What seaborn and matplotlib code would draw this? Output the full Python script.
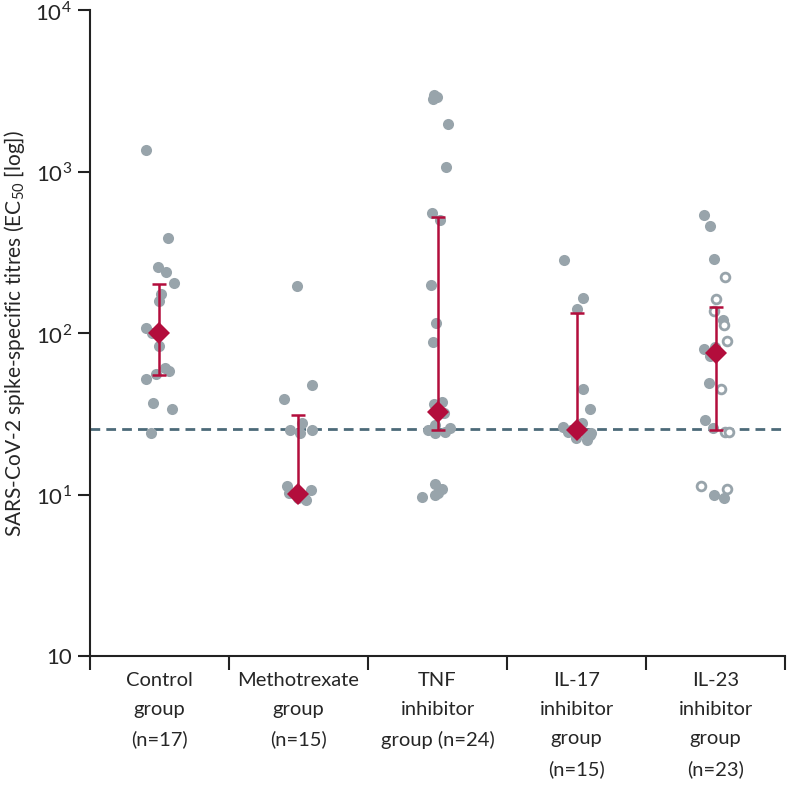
import numpy as np
import pandas as pd
import matplotlib
matplotlib.use('Agg')
import matplotlib.pyplot as plt
import seaborn as sns

groups = ['Control\ngroup\n(n=17)', 'Methotrexate\ngroup\n(n=15)', 'TNF\ninhibitor\ngroup (n=24)',
          'IL-17\ninhibitor\ngroup\n(n=15)', 'IL-23\ninhibitor\ngroup\n(n=23)']

control = [1359, 386, 258, 240, 205, 176, 158, 108, 101, 83, 61, 58, 56, 52, 37, 34, 24]
methotrexate = [196, 48, 39, 28, 25, 25, 24, 10.7, 11.3, 9.8, 9.3, 9.7, 10.0, 10.2, 9.5]
tnf = [3000, 2900, 2800, 1987, 1071, 556, 501, 198, 116, 88, 37.6, 36.3,
       32.6, 32, 27, 25.8, 25, 24.5, 24, 11.7, 10.9, 10.2, 9.9, 9.7]
il17 = [283, 165, 142, 45, 34, 28, 26.3, 25.3, 25, 24.5, 24, 23.5, 23, 22.5, 21.7]
il23_filled = [538, 460, 287, 120, 82, 80, 75, 72, 49, 29.2, 25.9, 9.9, 9.55]
il23_open = [223, 162, 137, 113, 89.6, 45, 24.3, 24.3, 11.3, 10.8]

medians = [101, 10.07, 32.6, 25.3, 75]
q1 = [55.5, 10.07, 25.3, 25.3, 25.3]
q3 = [201, 31, 525, 134, 146]
threshold = 25.4

grey = '#98a4ab'
red = '#b30d3c'

sns.set_style('white')
plt.rcParams['font.family'] = ['Lato', 'DejaVu Sans']
plt.rcParams['mathtext.fontset'] = 'custom'
plt.rcParams['mathtext.rm'] = 'Lato'

filled = pd.DataFrame({
    'group': [groups[0]] * len(control) + [groups[1]] * len(methotrexate) + [groups[2]] * len(tnf)
             + [groups[3]] * len(il17) + [groups[4]] * len(il23_filled),
    'titre': control + methotrexate + tnf + il17 + il23_filled,
})
hollow = pd.DataFrame({'group': [groups[4]] * len(il23_open), 'titre': il23_open})

fig = plt.figure(figsize=(7.89, 7.85), dpi=100)
ax = fig.add_axes([0.114, 0.164, 0.881, 0.823])

np.random.seed(7)
sns.stripplot(data=filled, x='group', y='titre', order=groups, color=grey, size=8,
              jitter=0.11, linewidth=0, ax=ax, zorder=2)
sns.stripplot(data=hollow, x='group', y='titre', order=groups, color='white', size=6.3,
              jitter=0.11, linewidth=2, edgecolor=grey, ax=ax, zorder=2)

ax.axhline(threshold, color='#4c6a79', lw=2, ls=(0, (3.5, 2.2)), zorder=1)

x = np.arange(len(groups))
med = np.array(medians)
ax.errorbar(x, med, yerr=[med - np.array(q1), np.array(q3) - med], fmt='none',
            ecolor=red, elinewidth=1.8, capsize=4.8, capthick=1.8, zorder=3)
ax.plot(x, med, ls='none', marker='D', ms=11, color=red, mew=0, zorder=4)

ax.set_yscale('log')
ax.set_ylim(1, 1e4)
ax.set_xlim(-0.5, 4.5)
ax.set_yticks([1, 10, 100, 1000, 10000])
ax.set_yticklabels(['10', '$10^1$', '$10^2$', '$10^3$', '$10^4$'], fontsize=16)
ax.yaxis.set_minor_locator(matplotlib.ticker.NullLocator())
ax.set_xticks(np.arange(-0.5, 5, 1))
ax.set_xticklabels([])
ax.set_xticks(x, minor=True)
ax.set_xticklabels(groups, minor=True, fontsize=14.5, linespacing=1.87, va='top')
ax.tick_params(axis='x', which='major', bottom=True, direction='out', length=10, width=1.5, color='#222222')
ax.tick_params(axis='x', which='minor', bottom=True, length=0, pad=11)
ax.tick_params(axis='y', left=True, direction='out', length=9, width=1.5, color='#222222', pad=4)

for side in ['top', 'right']:
    ax.spines[side].set_visible(False)
for side in ['left', 'bottom']:
    ax.spines[side].set_linewidth(1.5)
    ax.spines[side].set_color('#222222')

ax.set_xlabel('')
ax.set_ylabel('SARS-CoV-2 spike-specific titres (EC$_{50}$ [log])', fontsize=15, labelpad=6)

fig.savefig('out.png', dpi=100)
